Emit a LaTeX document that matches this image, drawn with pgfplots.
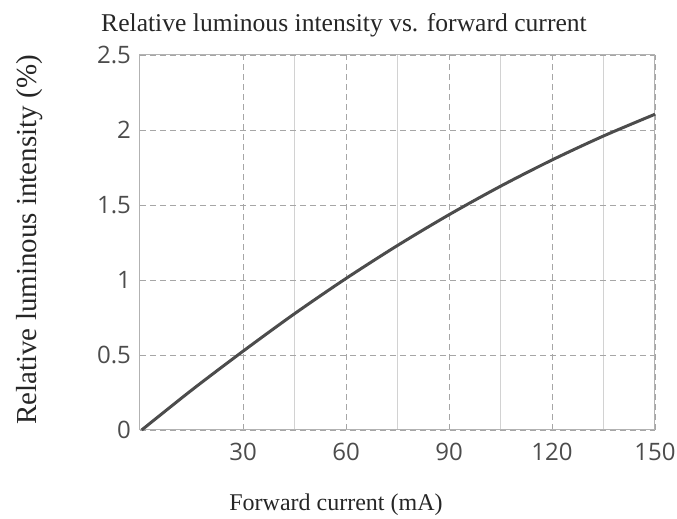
\documentclass[border=0pt]{standalone}
\usepackage{fontspec}
\setmainfont{Liberation Serif}
\newfontfamily\tickfont{Open Sans}
\usepackage{pgfplots}
\pgfplotsset{compat=1.18}
\begin{document}
\begin{tikzpicture}
\useasboundingbox (-70pt,-44.5pt) rectangle (268.5pt,215pt);
\begin{axis}[
  at={(0pt,0pt)}, anchor=south west,
  scale only axis, width=257.5pt, height=187.5pt,
  xmin=0, xmax=150, ymin=0, ymax=2.5,
  xtick={30,60,90,120,150},
  ytick={0,0.5,1,1.5,2,2.5},
  yticklabels={0,0.5,1,1.5,2,2.5},
  minor x tick num=1,
  grid=both,
  major grid style={gray!70, densely dashed, line width=0.4pt},
  minor grid style={gray!35, line width=0.4pt},
  axis line style={gray!60, line width=0.5pt},
  tick style={draw=none},
  /pgf/number format/assume math mode=true,
  ticklabel style={font=\tickfont\fontsize{12}{14}\selectfont, text=gray!60!black},
  xticklabel style={yshift=-3pt},
  yticklabel style={xshift=-1pt},
  clip=false,
]
\addplot[draw=black!70, line width=1.5pt, smooth] coordinates {
  (0.5,0) (15,0.265) (30,0.525) (45,0.775) (60,1.01) (75,1.23)
  (90,1.435) (105,1.625) (120,1.80) (135,1.96) (150,2.105)
};
\end{axis}
\node[font=\fontsize{12.8}{14}\selectfont, text=black!85] at (102pt,202.5pt) {Relative luminous intensity vs. forward current};
\node[font=\fontsize{14.5}{16}\selectfont, text=black!85, rotate=90] at (-55pt,95pt) {Relative luminous intensity (\%)};
\node[font=\fontsize{12}{14}\selectfont, text=black!85] at (98pt,-37.5pt) {Forward current (mA)};
\end{tikzpicture}
\end{document}
